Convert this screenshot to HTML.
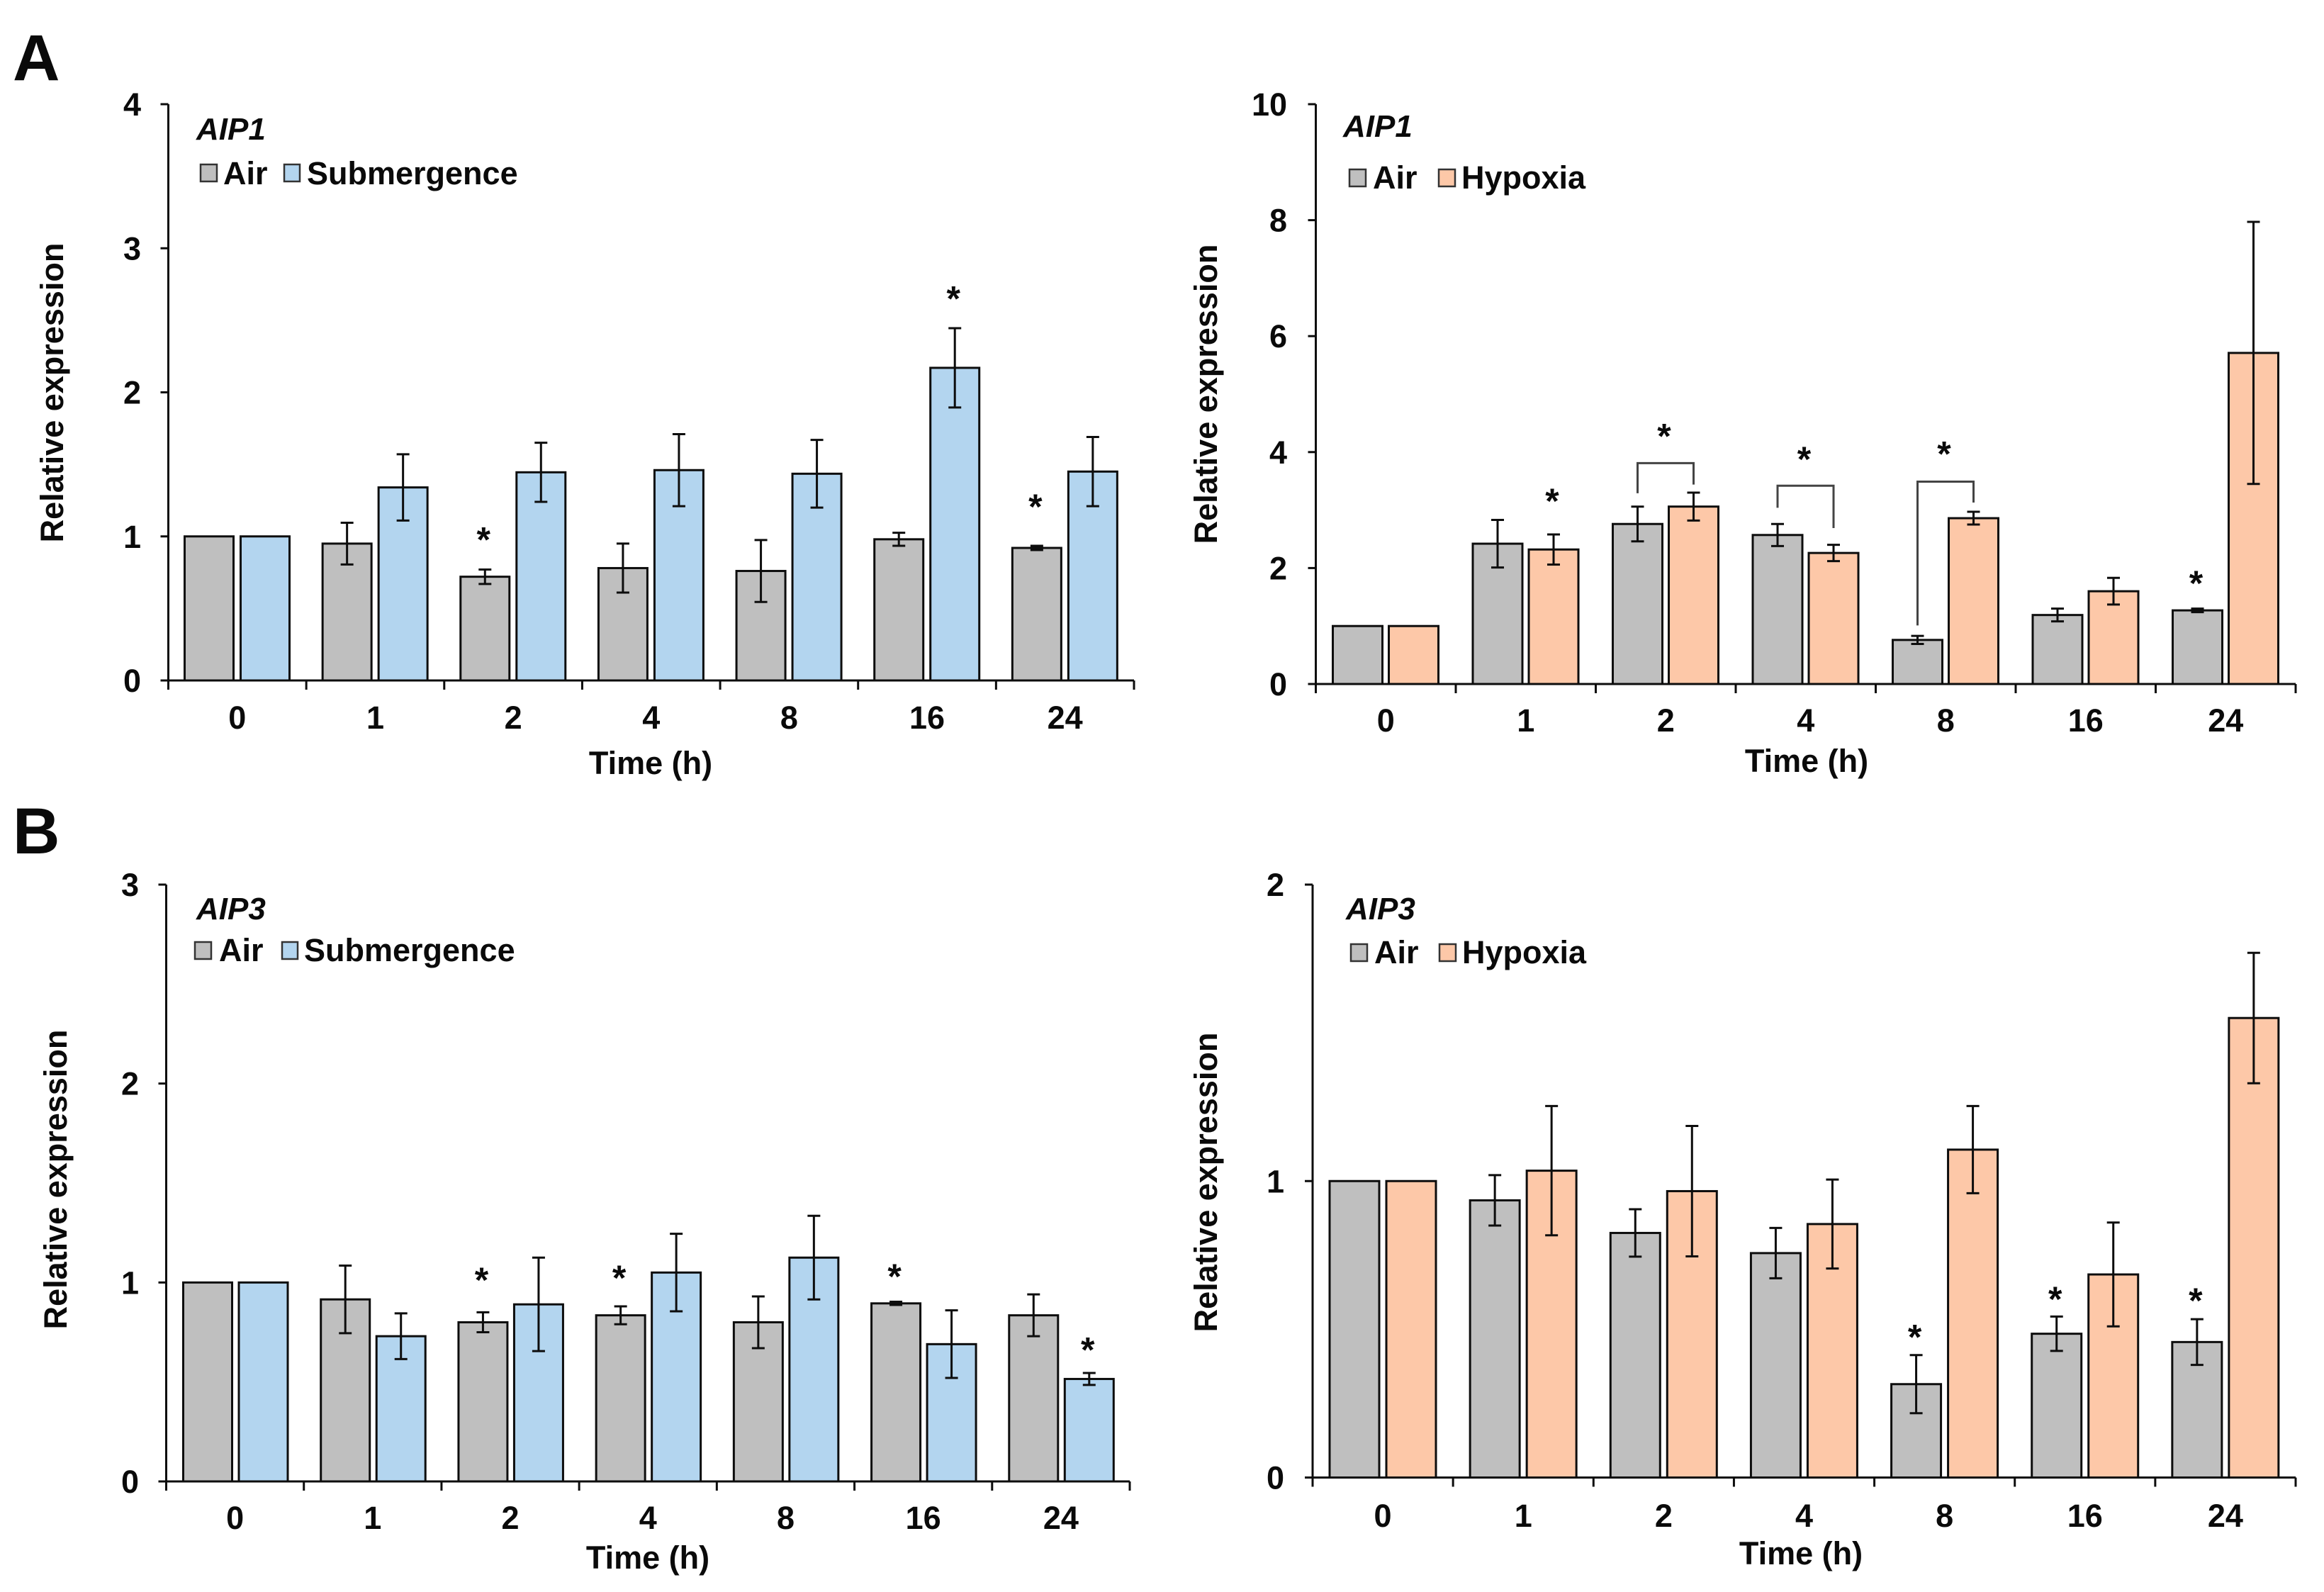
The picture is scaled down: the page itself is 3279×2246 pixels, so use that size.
<!DOCTYPE html>
<html lang="en">
<head>
<meta charset="utf-8">
<title>AIP1 and AIP3 relative expression</title>
<style>
html,body{margin:0;padding:0;background:#fff;}
svg{display:block;}
text{font-family:"Liberation Sans",Arial,sans-serif;font-weight:700;fill:#0a0a0a;}
</style>
</head>
<body>
<svg id="figure" xmlns="http://www.w3.org/2000/svg" width="3279" height="2246" viewBox="0 0 3279 2246">
  <rect x="0" y="0" width="3279" height="2246" fill="#ffffff"/>
  <text x="18" y="113" font-size="92">A</text>
  <text x="18" y="1204" font-size="92">B</text>

  <text x="277" y="197" font-size="44" font-style="italic">AIP1</text>
  <rect x="283" y="232" width="23" height="24" fill="#bfbfbf" stroke="#333" stroke-width="2.5"/>
  <text x="315" y="260" font-size="45">Air</text>
  <rect x="401" y="232" width="22" height="24" fill="#b3d5ef" stroke="#333" stroke-width="2.5"/>
  <text x="433" y="260" font-size="45">Submergence</text>

  <text x="1895" y="193" font-size="44" font-style="italic">AIP1</text>
  <rect x="1904" y="239" width="23" height="24" fill="#bfbfbf" stroke="#333" stroke-width="2.5"/>
  <text x="1937" y="266" font-size="45">Air</text>
  <rect x="2030" y="239" width="23" height="24" fill="#fdc8a8" stroke="#333" stroke-width="2.5"/>
  <text x="2062" y="266" font-size="45">Hypoxia</text>

  <text x="277" y="1297" font-size="44" font-style="italic">AIP3</text>
  <rect x="275" y="1329" width="23" height="24" fill="#bfbfbf" stroke="#333" stroke-width="2.5"/>
  <text x="309" y="1356" font-size="45">Air</text>
  <rect x="398" y="1329" width="22" height="24" fill="#b3d5ef" stroke="#333" stroke-width="2.5"/>
  <text x="429" y="1356" font-size="45">Submergence</text>

  <text x="1899" y="1297" font-size="44" font-style="italic">AIP3</text>
  <rect x="1906" y="1332" width="23" height="24" fill="#bfbfbf" stroke="#333" stroke-width="2.5"/>
  <text x="1939" y="1359" font-size="45">Air</text>
  <rect x="2031" y="1332" width="23" height="24" fill="#fdc8a8" stroke="#333" stroke-width="2.5"/>
  <text x="2063" y="1359" font-size="45">Hypoxia</text>
</svg>
<script>
// Shared category labels
const timeLabels = ['0', '1', '2', '4', '8', '16', '24'];
const xAxisTitle = 'Time (h)';
const yAxisTitle = 'Relative expression';

// AIP1 submergence
const aip1SubTicks = [0, 1, 2, 3, 4];
const aip1SubAir = [1, 0.95, 0.72, 0.78, 0.76, 0.98, 0.92];
const aip1SubAirErr = [0, 0.145, 0.05, 0.17, 0.215, 0.045, 0.015];
const aip1SubTreat = [1, 1.34, 1.445, 1.46, 1.435, 2.17, 1.45];
const aip1SubTreatErr = [0, 0.23, 0.205, 0.25, 0.235, 0.275, 0.24];
const aip1SubStarCats = [2, 5, 6];
const aip1SubStarSeries = ['a', 'b', 'a'];
const aip1SubStarLevels = [1.01, 2.685, 1.24];

// AIP1 hypoxia
const aip1HypTicks = [0, 2, 4, 6, 8, 10];
const aip1HypAir = [1, 2.42, 2.76, 2.57, 0.76, 1.19, 1.27];
const aip1HypAirErr = [0, 0.41, 0.3, 0.19, 0.07, 0.11, 0.03];
const aip1HypTreat = [1, 2.32, 3.06, 2.26, 2.86, 1.6, 5.71];
const aip1HypTreatErr = [0, 0.26, 0.24, 0.14, 0.11, 0.23, 2.26];
const aip1HypStarCats = [1, 2, 3, 4, 6];
const aip1HypStarSeries = ['b', 'm', 'm', 'm', 'a'];
const aip1HypStarLevels = [3.24, 4.36, 3.96, 4.05, 1.82];
const aip1HypBracketCats = [2, 3, 4];
const aip1HypBracketLeft = [3.29, 3.04, 1.01];
const aip1HypBracketTop = [3.81, 3.42, 3.49];
const aip1HypBracketRight = [3.44, 2.69, 3.13];

// AIP3 submergence
const aip3SubTicks = [0, 1, 2, 3];
const aip3SubAir = [1, 0.915, 0.8, 0.835, 0.8, 0.895, 0.835];
const aip3SubAirErr = [0, 0.17, 0.05, 0.045, 0.13, 0.008, 0.105];
const aip3SubTreat = [1, 0.73, 0.89, 1.05, 1.125, 0.69, 0.515];
const aip3SubTreatErr = [0, 0.115, 0.235, 0.195, 0.21, 0.17, 0.03];
const aip3SubStarCats = [2, 3, 5, 6];
const aip3SubStarSeries = ['a', 'a', 'a', 'b'];
const aip3SubStarLevels = [1.036, 1.048, 1.054, 0.686];

// AIP3 hypoxia
const aip3HypTicks = [0, 1, 2];
const aip3HypAir = [1, 0.935, 0.825, 0.757, 0.315, 0.485, 0.457];
const aip3HypAirErr = [0, 0.085, 0.08, 0.085, 0.098, 0.058, 0.077];
const aip3HypTreat = [1, 1.035, 0.966, 0.855, 1.106, 0.685, 1.55];
const aip3HypTreatErr = [0, 0.218, 0.22, 0.15, 0.147, 0.175, 0.22];
const aip3HypStarCats = [4, 5, 6];
const aip3HypStarSeries = ['a', 'a', 'a'];
const aip3HypStarLevels = [0.49, 0.618, 0.613];

const svgNS = 'http://www.w3.org/2000/svg';
const figure = document.getElementById('figure');
const INK = '#0d0d0d';

function make(tag, attrs, parent) {
  const el = document.createElementNS(svgNS, tag);
  for (const key in attrs) el.setAttribute(key, attrs[key]);
  parent.appendChild(el);
  return el;
}

function drawPanel(p) {
  const g = make('g', {}, figure);
  
  

  const maxY = p.ticks[p.ticks.length - 1];
  const yScale = v => p.yBase - (v / maxY) * (p.yBase - p.yTop);
  const band = (p.x1 - p.x0) / p.cats.length;
  const xBand = i => p.x0 + i * band;
  const xAir = i => xBand(i) + p.airOffset;
  const xTreat = i => xBand(i) + p.treatOffset;
  const centerOf = (i, s) => s === 'a' ? xAir(i) + p.barW / 2
    : s === 'b' ? xTreat(i) + p.barW / 2
    : (xAir(i) + xTreat(i) + p.barW) / 2;

  // bars
  p.cats.forEach((cat, i) => {
    const airBar = make('rect', {
      x: xAir(i), y: yScale(p.air[i]), width: p.barW, height: p.yBase - yScale(p.air[i]),
      fill: '#bfbfbf', stroke: INK, 'stroke-width': 3
    }, g);
    
    
    const treatBar = make('rect', {
      x: xTreat(i), y: yScale(p.treat[i]), width: p.barW, height: p.yBase - yScale(p.treat[i]),
      fill: p.treatColor, stroke: INK, 'stroke-width': 3
    }, g);
    
    
  });

  // error bars
  function errorBar(cx, value, err) {
    if (!err) return;
    const top = yScale(value + err), bottom = yScale(value - err);
    const d = 'M' + cx + ' ' + top + 'V' + bottom +
      'M' + (cx - 9) + ' ' + top + 'H' + (cx + 9) +
      'M' + (cx - 9) + ' ' + bottom + 'H' + (cx + 9);
    const path = make('path', { d: d, fill: 'none', stroke: INK, 'stroke-width': 3 }, g);
    
    
  }
  p.cats.forEach((cat, i) => {
    errorBar(centerOf(i, 'a'), p.air[i], p.airErr[i]);
    errorBar(centerOf(i, 'b'), p.treat[i], p.treatErr[i]);
  });

  // axes
  const axisY = make('line', { x1: p.x0, x2: p.x0, y1: p.yTop, y2: p.yBase, stroke: INK, 'stroke-width': 3 }, g);
  
  
  const axisX = make('line', { x1: p.x0, x2: p.x1, y1: p.yBase, y2: p.yBase, stroke: INK, 'stroke-width': 3 }, g);
  
  

  // y ticks
  p.ticks.forEach(t => {
    const y = yScale(t);
    const tick = make('line', { x1: p.x0 - 11, x2: p.x0, y1: y, y2: y, stroke: INK, 'stroke-width': 3 }, g);
    
    
    const label = make('text', { x: p.yLabelRight, y: y + 16, 'font-size': 45, 'text-anchor': 'end' }, g);
    label.textContent = String(t);
    
    
  });

  // x ticks and labels
  for (let i = 0; i <= p.cats.length; i++) {
    const tick = make('line', { x1: xBand(i), x2: xBand(i), y1: p.yBase, y2: p.yBase + 13, stroke: INK, 'stroke-width': 3 }, g);
    
    
  }
  p.cats.forEach((cat, i) => {
    const label = make('text', { x: xBand(i) + band / 2, y: p.xLabelY, 'font-size': 45, 'text-anchor': 'middle' }, g);
    label.textContent = cat;
    
    
  });

  // axis titles
  const xTitle = make('text', { x: p.xTitleX, y: p.xTitleY, 'font-size': 45, 'text-anchor': 'middle' }, g);
  xTitle.textContent = xAxisTitle;
  
  
  const yTitle = make('text', {
    transform: 'translate(' + p.yTitleX + ' ' + p.yTitleY + ') rotate(-90)',
    'font-size': 45, 'text-anchor': 'middle'
  }, g);
  yTitle.textContent = yAxisTitle;
  
  

  // significance brackets
  (p.bracketCats || []).forEach((cat, i) => {
    const left = centerOf(cat, 'a'), right = centerOf(cat, 'b');
    const d = 'M' + left + ' ' + yScale(p.bracketLeft[i]) +
      'V' + yScale(p.bracketTop[i]) + 'H' + right + 'V' + yScale(p.bracketRight[i]);
    const path = make('path', { d: d, fill: 'none', stroke: '#444', 'stroke-width': 3 }, g);
    
    
  });

  // significance stars
  p.starCats.forEach((cat, i) => {
    const star = make('text', {
      x: centerOf(cat, p.starSeries[i]) - 2, y: yScale(p.starLevels[i]) + 24,
      'font-size': 50, 'text-anchor': 'middle'
    }, g);
    star.textContent = '*';
    
    
  });
}

drawPanel({
  name: 'chart-aip1-submergence', cats: timeLabels, ticks: aip1SubTicks,
  air: aip1SubAir, airErr: aip1SubAirErr, treat: aip1SubTreat, treatErr: aip1SubTreatErr,
  treatColor: '#b3d5ef', starCats: aip1SubStarCats, starSeries: aip1SubStarSeries, starLevels: aip1SubStarLevels,
  x0: 237.5, x1: 1600, yTop: 147, yBase: 960, barW: 69, airOffset: 23, treatOffset: 102,
  yLabelRight: 199, xLabelY: 1028, xTitleX: 918, xTitleY: 1092, yTitleX: 89, yTitleY: 554
});

drawPanel({
  name: 'chart-aip1-hypoxia', cats: timeLabels, ticks: aip1HypTicks,
  air: aip1HypAir, airErr: aip1HypAirErr, treat: aip1HypTreat, treatErr: aip1HypTreatErr,
  treatColor: '#fdc8a8', starCats: aip1HypStarCats, starSeries: aip1HypStarSeries, starLevels: aip1HypStarLevels,
  bracketCats: aip1HypBracketCats, bracketLeft: aip1HypBracketLeft, bracketTop: aip1HypBracketTop, bracketRight: aip1HypBracketRight,
  x0: 1856.5, x1: 3239, yTop: 147, yBase: 965, barW: 70, airOffset: 24, treatOffset: 103,
  yLabelRight: 1816, xLabelY: 1032, xTitleX: 2549, xTitleY: 1089, yTitleX: 1717, yTitleY: 556
});

drawPanel({
  name: 'chart-aip3-submergence', cats: timeLabels, ticks: aip3SubTicks,
  air: aip3SubAir, airErr: aip3SubAirErr, treat: aip3SubTreat, treatErr: aip3SubTreatErr,
  treatColor: '#b3d5ef', starCats: aip3SubStarCats, starSeries: aip3SubStarSeries, starLevels: aip3SubStarLevels,
  x0: 234.5, x1: 1594, yTop: 1248, yBase: 2090, barW: 69, airOffset: 24, treatOffset: 102.5,
  yLabelRight: 196, xLabelY: 2157, xTitleX: 914, xTitleY: 2213, yTitleX: 94, yTitleY: 1664
});

drawPanel({
  name: 'chart-aip3-hypoxia', cats: timeLabels, ticks: aip3HypTicks,
  air: aip3HypAir, airErr: aip3HypAirErr, treat: aip3HypTreat, treatErr: aip3HypTreatErr,
  treatColor: '#fdc8a8', starCats: aip3HypStarCats, starSeries: aip3HypStarSeries, starLevels: aip3HypStarLevels,
  x0: 1852, x1: 3239, yTop: 1248, yBase: 2084.5, barW: 70, airOffset: 24, treatOffset: 104,
  yLabelRight: 1812, xLabelY: 2154, xTitleX: 2541, xTitleY: 2207, yTitleX: 1717, yTitleY: 1668
});
</script>
</body>
</html>
